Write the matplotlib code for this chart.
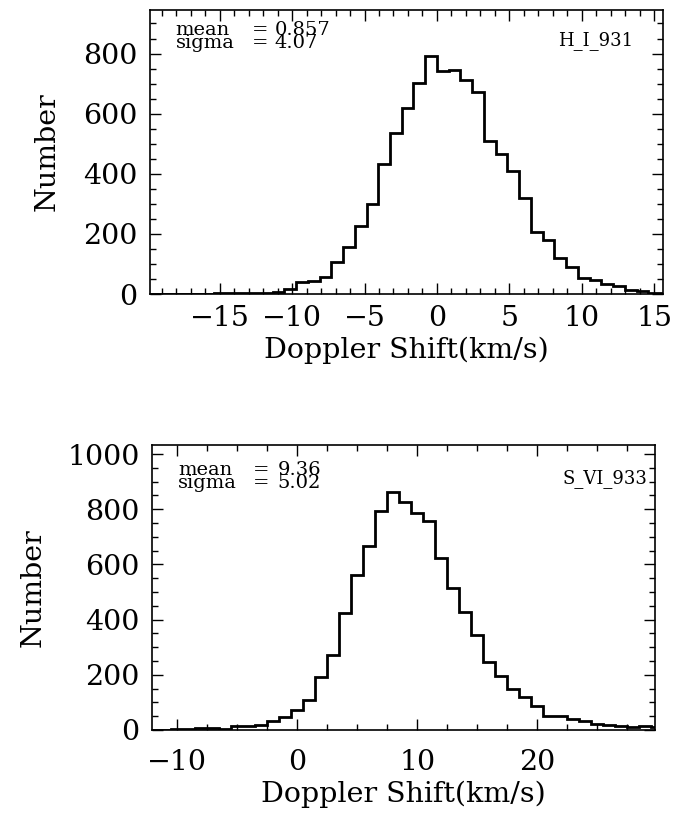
import numpy as np
import matplotlib
matplotlib.use("Agg")
import matplotlib.pyplot as plt
from matplotlib.ticker import MultipleLocator

# ---- data ----
# top panel: H_I_931, bins of 0.81 km/s starting at -20.25
h1_name = "H_I_931"
h1_mean, h1_sigma = "0.857", "4.07"
h1_start, h1_width = -20.25, 0.81
h1_counts = [1, 1, 0, 1, 0, 1, 2, 2, 3, 4,
             5, 8, 16, 40, 42, 56, 107, 156, 226, 299,
             432, 535, 618, 702, 791, 741, 746, 713, 671, 509,
             465, 409, 318, 206, 180, 119, 91, 53, 48, 32,
             27, 13, 11, 5, 3]

# bottom panel: S_VI_933, bins of 1 km/s starting at -12.5
h2_name = "S_VI_933"
h2_mean, h2_sigma = "9.36", "5.02"
h2_start, h2_width = -12.5, 1.0
h2_counts = [1, 1, 2, 4, 7, 7, 4, 16, 13, 19,
             34, 47, 71, 110, 192, 273, 424, 563, 668, 792,
             861, 828, 786, 758, 623, 514, 426, 345, 248, 197,
             148, 120, 86, 49, 49, 40, 34, 23, 19, 15,
             11, 13, 12]

plt.rcParams['font.family'] = ['DejaVu Serif']
plt.rcParams['axes.linewidth'] = 1.2

fig = plt.figure(figsize=(6.77, 8.24), dpi=100)


def panel(rect, counts, start, width, xlim, ylim, xmaj, xmin, ylabx, xpad,
          name, mean, sigma, txt):
    ax = fig.add_axes(rect)
    counts = np.array(counts)
    edges = start + width * np.arange(len(counts) + 1)
    ax.stairs(counts, edges, color="black", linewidth=2, baseline=None)
    ax.set_xlim(*xlim)
    ax.set_ylim(*ylim)
    ax.xaxis.set_major_locator(MultipleLocator(xmaj))
    ax.xaxis.set_minor_locator(MultipleLocator(xmin))
    ax.yaxis.set_major_locator(MultipleLocator(200))
    ax.yaxis.set_minor_locator(MultipleLocator(50))
    ax.tick_params(which="both", direction="in", top=True, right=True,
                   width=1, labelsize=20.5)
    ax.tick_params(which="major", length=8)
    ax.tick_params(which="minor", length=4)
    ax.tick_params(axis="y", pad=9)
    ax.tick_params(axis="x", pad=xpad)
    ax.set_xlabel("Doppler Shift(km/s)", fontsize=20.5, labelpad=3)
    ax.set_ylabel("Number", fontsize=20.5)
    ax.yaxis.set_label_coords(ylabx, 0.5)
    # annotation block: names, "=" and values as three two-line columns
    x0, xeq, xv, ytop, xr, yname = txt
    kw = dict(transform=ax.transAxes, fontsize=14, va="top", linespacing=0.62)
    ax.text(x0, ytop, "mean\nsigma", **kw)
    ax.text(xeq, ytop, "=\n=", **kw)
    ax.text(xv, ytop, mean + "\n" + sigma, **kw)
    ax.text(xr, yname, name, transform=ax.transAxes, fontsize=13, ha="right")
    return ax


panel([0.2216, 0.6432, 0.7578, 0.3447], h1_counts, h1_start, h1_width,
      (-19.8, 15.6), (0, 945), 5, 1, -0.175, 8,
      h1_name, h1_mean, h1_sigma,
      (0.05, 0.199, 0.243, 0.96, 0.9415, 0.877))

panel([0.2245, 0.1141, 0.7430, 0.3459], h2_counts, h2_start, h2_width,
      (-12.1, 29.8), (0, 1033), 10, 2.5, -0.209, 14,
      h2_name, h2_mean, h2_sigma,
      (0.052, 0.2, 0.25, 0.942, 0.984, 0.867))

fig.savefig("out.png", dpi=100)
